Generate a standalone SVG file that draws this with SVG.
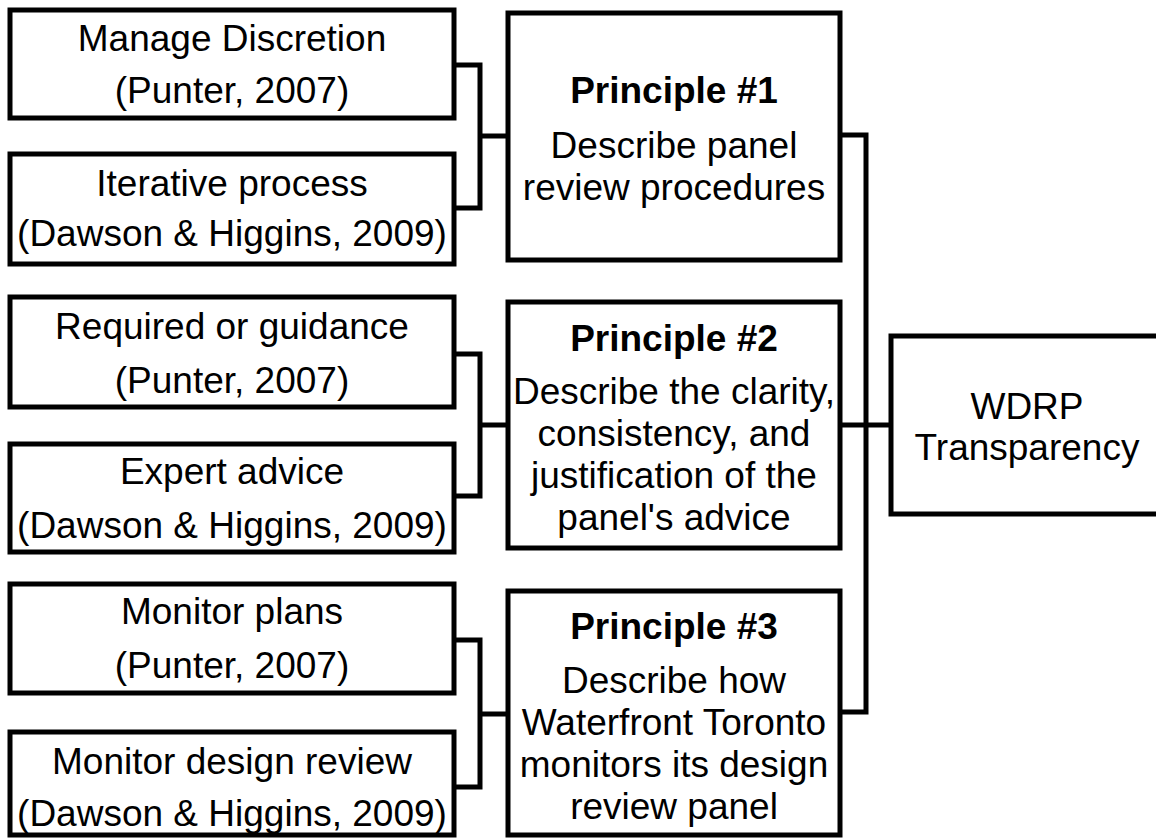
<svg xmlns="http://www.w3.org/2000/svg" width="1156" height="839" viewBox="0 0 1156 839">
  <style>
    .box { fill: #ffffff; stroke: #000000; stroke-width: 5; }
    .conn { fill: none; stroke: #000000; stroke-width: 5; stroke-linejoin: miter; }
    .t { font-family: "Liberation Sans", Arial, sans-serif; font-size: 37px; fill: #000000; text-anchor: middle; }
    .b { font-weight: bold; }
  </style>
  <rect width="1156" height="839" fill="#ffffff"/>
  <g id="connectors">
    <path class="conn" d="M454,65 H480 V208 H454 M480,136 H508"/>
    <path class="conn" d="M454,354 H480 V496 H454 M480,425 H508"/>
    <path class="conn" d="M454,640 H480 V787 H454 M480,714 H508"/>
    <path class="conn" d="M840,135 H866 V712 H840 M840,425 H891"/>
  </g>
  <g id="manage-discretion">
    <rect class="box" x="10" y="10" width="444" height="108"/>
    <text class="t" x="232" y="51">Manage Discretion</text>
    <text class="t" x="232" y="103">(Punter, 2007)</text>
  </g>
  <g id="iterative-process">
    <rect class="box" x="10" y="154" width="444" height="110"/>
    <text class="t" x="232" y="196">Iterative process</text>
    <text class="t" x="232" y="246">(Dawson &amp; Higgins, 2009)</text>
  </g>
  <g id="required-guidance">
    <rect class="box" x="10" y="297" width="444" height="110"/>
    <text class="t" x="232" y="339">Required or guidance</text>
    <text class="t" x="232" y="393">(Punter, 2007)</text>
  </g>
  <g id="expert-advice">
    <rect class="box" x="10" y="444" width="444" height="108"/>
    <text class="t" x="232" y="484">Expert advice</text>
    <text class="t" x="232" y="538">(Dawson &amp; Higgins, 2009)</text>
  </g>
  <g id="monitor-plans">
    <rect class="box" x="10" y="584" width="444" height="109"/>
    <text class="t" x="232" y="624">Monitor plans</text>
    <text class="t" x="232" y="678">(Punter, 2007)</text>
  </g>
  <g id="monitor-design-review">
    <rect class="box" x="10" y="732" width="444" height="103"/>
    <text class="t" x="232" y="774">Monitor design review</text>
    <text class="t" x="232" y="826">(Dawson &amp; Higgins, 2009)</text>
  </g>
  <g id="principle-1">
    <rect class="box" x="508" y="13" width="332" height="247"/>
    <text class="t b" x="674" y="103">Principle #1</text>
    <text class="t" x="674" y="158">Describe panel</text>
    <text class="t" x="674" y="200">review procedures</text>
  </g>
  <g id="principle-2">
    <rect class="box" x="508" y="302" width="332" height="246"/>
    <text class="t b" x="674" y="351">Principle #2</text>
    <text class="t" x="674" y="404">Describe the clarity,</text>
    <text class="t" x="674" y="446">consistency, and</text>
    <text class="t" x="674" y="488">justification of the</text>
    <text class="t" x="674" y="530">panel's advice</text>
  </g>
  <g id="principle-3">
    <rect class="box" x="508" y="591" width="332" height="244"/>
    <text class="t b" x="674" y="639">Principle #3</text>
    <text class="t" x="674" y="693">Describe how</text>
    <text class="t" x="674" y="735">Waterfront Toronto</text>
    <text class="t" x="674" y="777">monitors its design</text>
    <text class="t" x="674" y="819">review panel</text>
  </g>
  <g id="wdrp-transparency">
    <rect class="box" x="891" y="336" width="274" height="178"/>
    <text class="t" x="1027" y="419">WDRP</text>
    <text class="t" x="1027" y="460">Transparency</text>
  </g>
</svg>
